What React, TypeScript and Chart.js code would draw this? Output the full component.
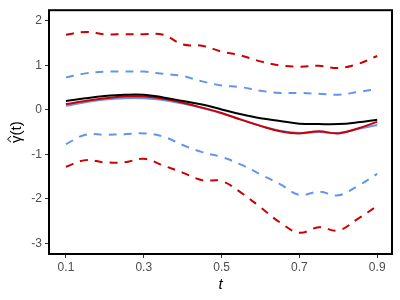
import React, { useEffect, useRef } from "react";
import { Chart, registerables } from "chart.js";

Chart.register(...registerables);

const tValues = [0.1, 0.15, 0.2, 0.25, 0.3, 0.35, 0.4, 0.45, 0.5, 0.55, 0.6, 0.65, 0.7, 0.75, 0.8, 0.85, 0.9];
const trueGamma = [0.20, 0.26, 0.31, 0.34, 0.34, 0.28, 0.20, 0.12, 0.01, -0.10, -0.19, -0.25, -0.31, -0.32, -0.32, -0.28, -0.22];
const redEstimate = [0.13, 0.20, 0.26, 0.30, 0.30, 0.25, 0.16, 0.05, -0.07, -0.22, -0.36, -0.48, -0.53, -0.48, -0.53, -0.42, -0.27];
const blueEstimate = [0.09, 0.17, 0.23, 0.26, 0.26, 0.22, 0.14, 0.04, -0.08, -0.22, -0.36, -0.47, -0.52, -0.50, -0.52, -0.43, -0.34];
const redUpper = [1.69, 1.75, 1.70, 1.70, 1.70, 1.69, 1.47, 1.44, 1.31, 1.22, 1.09, 1.00, 0.97, 0.99, 0.94, 1.03, 1.21];
const redLower = [-1.28, -1.13, -1.18, -1.18, -1.10, -1.25, -1.41, -1.58, -1.60, -1.86, -2.19, -2.53, -2.76, -2.64, -2.71, -2.45, -2.16];
const blueUpper = [0.73, 0.82, 0.86, 0.86, 0.86, 0.81, 0.76, 0.64, 0.55, 0.51, 0.43, 0.38, 0.38, 0.36, 0.34, 0.40, 0.47];
const blueLower = [-0.77, -0.56, -0.56, -0.55, -0.53, -0.60, -0.79, -0.95, -1.06, -1.23, -1.45, -1.67, -1.91, -1.84, -1.92, -1.71, -1.44];
const xTicks = [0.1, 0.3, 0.5, 0.7, 0.9];
const yTicks = [-3, -2, -1, 0, 1, 2];

const RED = "#CD0000";
const BLUE = "#6495ED";

const pts = (ys: number[]) => tValues.map((t, i) => ({ x: t, y: ys[i] }));

export default function App() {
  const ref = useRef<HTMLCanvasElement>(null);
  useEffect(() => {
    if (!ref.current) return;
    const frame = {
      id: "frame",
      afterDraw(chart: any) {
        const { ctx, chartArea: a } = chart;
        ctx.save();
        ctx.strokeStyle = "#000";
        ctx.lineWidth = 2;
        ctx.strokeRect(a.left, a.top, a.right - a.left, a.bottom - a.top);
        ctx.fillStyle = "#000";
        ctx.font = "italic 15px 'Liberation Sans', Arial, sans-serif";
        ctx.textAlign = "center";
        ctx.textBaseline = "middle";
        ctx.fillText("t", (a.left + a.right) / 2, 285);
        ctx.translate(17, (a.top + a.bottom) / 2);
        ctx.rotate(-Math.PI / 2);
        ctx.font = "15px 'Liberation Sans', Arial, sans-serif";
        const label = "\u03B3(t)";
        const w = ctx.measureText(label).width;
        const gw = ctx.measureText("\u03B3").width;
        ctx.textAlign = "left";
        ctx.fillText(label, -w / 2, 0);
        const hx = -w / 2 + gw / 2;
        ctx.lineWidth = 1;
        ctx.beginPath();
        ctx.moveTo(hx - 3, -6);
        ctx.lineTo(hx, -9.5);
        ctx.lineTo(hx + 3, -6);
        ctx.stroke();
        ctx.restore();
      },
    };
    const dashed = [8, 7];
    const chart = new Chart(ref.current, {
      type: "line",
      data: {
        datasets: [
          { data: pts(redUpper), borderColor: RED, borderDash: dashed, order: 7 },
          { data: pts(redLower), borderColor: RED, borderDash: dashed, order: 6 },
          { data: pts(blueUpper), borderColor: BLUE, borderDash: dashed, order: 5 },
          { data: pts(blueLower), borderColor: BLUE, borderDash: dashed, order: 4 },
          { data: pts(blueEstimate), borderColor: BLUE, order: 3 },
          { data: pts(redEstimate), borderColor: RED, order: 2 },
          { data: pts(trueGamma), borderColor: "#000", order: 1 },
        ].map((d) => ({ ...d, borderWidth: 2, pointRadius: 0, tension: 0.4, fill: false })),
      },
      options: {
        animation: false,
        responsive: false,
        layout: { padding: { top: 7, right: 8, left: 0, bottom: 0 } },
        plugins: { legend: { display: false }, tooltip: { enabled: false } },
        scales: {
          x: {
            type: "linear",
            min: 0.0564,
            max: 0.938,
            afterBuildTicks: (s: any) => { s.ticks = xTicks.map((v) => ({ value: v })); },
            afterFit: (s: any) => { s.height = 46; },
            grid: { drawOnChartArea: false, drawTicks: true, tickLength: 4, color: "#333" },
            border: { display: false },
            ticks: {
              color: "#4D4D4D",
              font: { family: "'Liberation Sans', Arial, sans-serif", size: 12 },
              padding: 2,
              maxRotation: 0,
              callback: (v: any) => Number(v).toFixed(1),
            },
          },
          y: {
            min: -3.24,
            max: 2.24,
            afterBuildTicks: (s: any) => { s.ticks = yTicks.map((v) => ({ value: v })); },
            afterFit: (s: any) => { s.width = 49; },
            grid: { drawOnChartArea: false, drawTicks: true, tickLength: 4, color: "#333" },
            border: { display: false },
            ticks: {
              color: "#4D4D4D",
              font: { family: "'Liberation Sans', Arial, sans-serif", size: 12 },
              padding: 3,
              callback: (v: any) => String(v),
            },
          },
        },
      },
      plugins: [frame],
    } as any);
    return () => chart.destroy();
  }, []);
  return (
    <div style={{ position: "fixed", left: 0, top: 0, width: 400, height: 300, background: "#fff" }}>
      <canvas ref={ref} width={400} height={300} style={{ width: 400, height: 300 }} />
    </div>
  );
}
